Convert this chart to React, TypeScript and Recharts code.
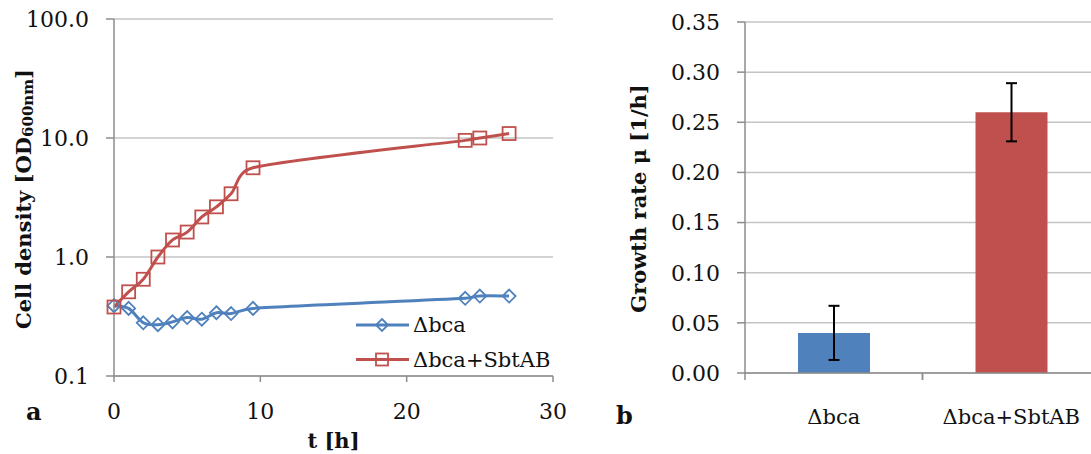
import { LineChart, Line, BarChart, Bar, ErrorBar, Cell, XAxis, YAxis, CartesianGrid, Legend, Label } from 'recharts'

// growth curves (panel a)
const hours = [0, 1, 2, 3, 4, 5, 6, 7, 8, 9.5, 24, 25, 27]
const bcaOD = [0.39, 0.37, 0.28, 0.27, 0.285, 0.31, 0.3, 0.34, 0.335, 0.37, 0.45, 0.47, 0.47]
const sbtOD = [0.38, 0.51, 0.65, 1.0, 1.39, 1.62, 2.17, 2.64, 3.4, 5.62, 9.55, 10.0, 10.9]
const odTicks = [0.1, 1, 10, 100]
const hourTicks = [0, 10, 20, 30]

// growth rates (panel b)
const strains = ['Δbca', 'Δbca+SbtAB']
const growthRate = [0.04, 0.26]
const growthErr = [0.027, 0.029]
const rateTicks = [0, 0.05, 0.1, 0.15, 0.2, 0.25, 0.3, 0.35]

const BLUE = '#4F81BD'
const RED = '#C0504D'
const AXIS = '#8c8c8c'
const GRID = '#c4c4c4'
const FONT = 'DejaVu Serif'

const curveData = hours.map((t, i) => ({ t, bca: bcaOD[i], sbt: sbtOD[i] }))
const rateData = strains.map((name, i) => ({ name, rate: growthRate[i], err: growthErr[i] }))
const barColors = [BLUE, RED]

const tickStyle = { fill: '#111', fontSize: 22, fontFamily: FONT }

// spreadsheet-style smoothed line: cardinal bezier, handles clamped to half the segment
function ctrl(p: number[], a: number[], b: number[], seg: number) {
  let dx = (b[0] - a[0]) / 6
  let dy = (b[1] - a[1]) / 6
  const len = Math.hypot(dx, dy)
  const max = seg * 0.5
  if (len > max && len > 0) {
    dx *= max / len
    dy *= max / len
  }
  return [p[0] + dx, p[1] + dy]
}

function smoothCurve(context: any) {
  let pts: number[][] = []
  return {
    areaStart() {},
    areaEnd() {},
    lineStart() {
      pts = []
    },
    lineEnd() {
      if (!pts.length) return
      context.moveTo(pts[0][0], pts[0][1])
      for (let i = 0; i < pts.length - 1; i++) {
        const p0 = pts[Math.max(i - 1, 0)]
        const p1 = pts[i]
        const p2 = pts[i + 1]
        const p3 = pts[Math.min(i + 2, pts.length - 1)]
        const seg = Math.hypot(p2[0] - p1[0], p2[1] - p1[1])
        const c1 = ctrl(p1, p0, p2, seg)
        const c2 = ctrl(p2, p3, p1, seg)
        context.bezierCurveTo(c1[0], c1[1], c2[0], c2[1], p2[0], p2[1])
      }
    },
    point(x: number, y: number) {
      pts.push([+x, +y])
    },
  }
}

function Diamond({ cx, cy, color, r = 6.5 }: { cx: number; cy: number; color: string; r?: number }) {
  return (
    <path
      d={`M${cx},${cy - r}L${cx + r},${cy}L${cx},${cy + r}L${cx - r},${cy}Z`}
      fill="none"
      stroke={color}
      strokeWidth={1.8}
    />
  )
}

function Square({ cx, cy, color, r = 6.5 }: { cx: number; cy: number; color: string; r?: number }) {
  return <rect x={cx - r} y={cy - r} width={r * 2} height={r * 2} fill="none" stroke={color} strokeWidth={1.8} />
}

const MARKERS: Record<string, typeof Diamond> = { bca: Diamond, sbt: Square }

function LegendBox({ payload }: any) {
  return (
    <svg width={220} height={75}>
      {(payload ?? []).map((entry: any, i: number) => {
        const y = 20 + i * 34.5
        const Marker = MARKERS[entry.dataKey] ?? Diamond
        return (
          <g key={entry.value}>
            <line x1={6} x2={59} y1={y} y2={y} stroke={entry.color} strokeWidth={3} />
            <Marker cx={32} cy={y} color={entry.color} r={6} />
            <text x={63} y={y} dominantBaseline="central" fontFamily={FONT} fontSize={21} fill="#111">
              {entry.value}
            </text>
          </g>
        )
      })}
    </svg>
  )
}

function OdLabel({ viewBox }: any) {
  const cx = viewBox.x + 23
  const cy = viewBox.y + viewBox.height / 2 + 1.5
  return (
    <text
      x={cx}
      y={cy}
      transform={`rotate(-90, ${cx}, ${cy})`}
      textAnchor="middle"
      dominantBaseline="central"
      fontFamily={FONT}
      fontWeight="bold"
      fontSize={21}
      fill="#111"
    >
      Cell density [OD<tspan dy={5} fontSize={15}>600nm</tspan>
      <tspan dy={-5}>]</tspan>
    </text>
  )
}

function GrowthCurves() {
  return (
    <LineChart width={580} height={454} data={curveData} margin={{ top: 19, right: 27, bottom: 0, left: 0 }}>
      <CartesianGrid vertical={false} stroke={GRID} strokeWidth={1.5} />
      <XAxis
        dataKey="t"
        type="number"
        domain={[0, 30]}
        ticks={hourTicks}
        height={78}
        stroke={AXIS}
        strokeWidth={1.5}
        tickSize={6}
        tickMargin={21}
        tick={tickStyle}
      >
        <Label
          content={({ viewBox }: any) => (
            <text
              x={viewBox.x + viewBox.width / 2}
              y={440}
              textAnchor="middle"
              dominantBaseline="central"
              fontFamily={FONT}
              fontWeight="bold"
              fontSize={21}
              fill="#111"
            >
              t [h]
            </text>
          )}
        />
      </XAxis>
      <YAxis
        scale="log"
        domain={[0.1, 100]}
        ticks={odTicks}
        allowDataOverflow
        width={114}
        stroke={AXIS}
        strokeWidth={1.5}
        tickSize={8}
        tickMargin={17}
        tick={tickStyle}
        tickFormatter={(v: number) => v.toFixed(1)}
      >
        <Label content={OdLabel} />
      </YAxis>
      <Line
        dataKey="bca"
        name="Δbca"
        type={smoothCurve as any}
        stroke={BLUE}
        strokeWidth={3}
        isAnimationActive={false}
        dot={(p: any) => <Diamond key={`b${p.index}`} cx={p.cx} cy={p.cy} color={BLUE} />}
      />
      <Line
        dataKey="sbt"
        name="Δbca+SbtAB"
        type={smoothCurve as any}
        stroke={RED}
        strokeWidth={3}
        isAnimationActive={false}
        dot={(p: any) => <Square key={`s${p.index}`} cx={p.cx} cy={p.cy} color={RED} />}
      />
      <Legend
        layout="vertical"
        align="center"
        verticalAlign="middle"
        content={LegendBox}
        wrapperStyle={{ left: 350, top: 305, width: 220, height: 75 }}
      />
    </LineChart>
  )
}

function BandTick({ x, y, payload }: any) {
  const half = payload.offset ?? 0
  const axisY = y - 24
  return (
    <g>
      <line x1={x - half} x2={x - half} y1={axisY} y2={axisY + 7} stroke={AXIS} strokeWidth={1.5} />
      <line x1={x + half} x2={x + half} y1={axisY} y2={axisY + 7} stroke={AXIS} strokeWidth={1.5} />
      <text x={x} y={417} textAnchor="middle" dominantBaseline="central" fontFamily={FONT} fontSize={21} fill="#111">
        {payload.value}
      </text>
    </g>
  )
}

function GrowthRates() {
  return (
    <BarChart width={500} height={454} data={rateData} margin={{ top: 22, right: 0, bottom: 0, left: 0 }}>
      <CartesianGrid vertical={false} stroke={GRID} strokeWidth={1.5} />
      <XAxis
        dataKey="name"
        height={81}
        stroke={AXIS}
        strokeWidth={1.5}
        tickLine={false}
        tickSize={0}
        tickMargin={24}
        tick={BandTick}
        interval={0}
      />
      <YAxis
        domain={[0, 0.35]}
        ticks={rateTicks}
        width={145}
        stroke={AXIS}
        strokeWidth={1.5}
        tickSize={8}
        tickMargin={17}
        tick={tickStyle}
        tickFormatter={(v: number) => v.toFixed(2)}
      >
        <Label
          content={({ viewBox }: any) => {
            const cx = viewBox.x + 38
            const cy = viewBox.y + viewBox.height / 2 + 1
            return (
              <text
                x={cx}
                y={cy}
                transform={`rotate(-90, ${cx}, ${cy})`}
                textAnchor="middle"
                dominantBaseline="central"
                fontFamily={FONT}
                fontWeight="bold"
                fontSize={21}
                fill="#111"
              >
                Growth rate μ [1/h]
              </text>
            )
          }}
        />
      </YAxis>
      <Bar dataKey="rate" barSize={72} isAnimationActive={false}>
        {rateData.map((d, i) => (
          <Cell key={d.name} fill={barColors[i]} />
        ))}
        <ErrorBar dataKey="err" width={5.5} stroke="#000" strokeWidth={2} isAnimationActive={false} />
      </Bar>
    </BarChart>
  )
}

export default function App() {
  return (
    <div style={{ position: 'absolute', left: 0, top: 0, width: 1091, height: 454, overflow: 'hidden', background: '#fff' }}>
      <div style={{ position: 'absolute', left: 0, top: 0 }}>
        <GrowthCurves />
      </div>
      <div style={{ position: 'absolute', left: 600, top: 0 }}>
        <GrowthRates />
      </div>
      <span style={{ position: 'absolute', left: 26, top: 397, fontFamily: FONT, fontWeight: 'bold', fontSize: 24, color: '#111' }}>a</span>
      <span style={{ position: 'absolute', left: 616, top: 401, fontFamily: FONT, fontWeight: 'bold', fontSize: 24, color: '#111' }}>b</span>
    </div>
  )
}
